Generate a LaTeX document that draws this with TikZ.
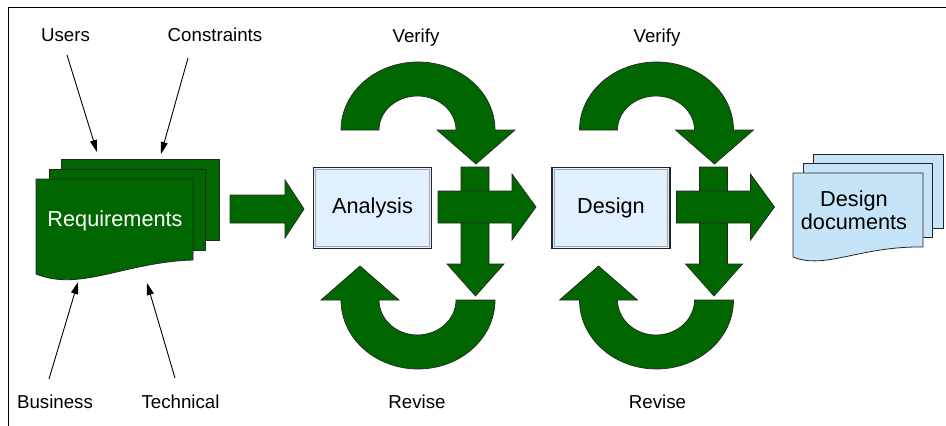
\documentclass[tikz,border=0pt]{standalone}
\usepackage{fontspec}
\setmainfont{Liberation Sans}
\usetikzlibrary{arrows.meta}
\definecolor{grn}{RGB}{0,102,0}
\definecolor{boxblue}{RGB}{224,240,255}
\definecolor{docblue}{RGB}{198,228,248}
\begin{document}
\begin{tikzpicture}[x=1pt,y=-1pt,
  blk/.style={fill=grn,draw=black!85,line width=0.7pt,line join=miter},
  gdoc/.style={fill=grn,draw=black!85,line width=0.8pt},
  bdoc/.style={fill=docblue,draw=black!85,line width=0.8pt},
  lbl/.style={font=\fontsize{18.7}{22}\selectfont,anchor=base,inner sep=0},
  lab/.style={draw=black,line width=0.9pt,-{Triangle[length=12pt,width=7pt]}},
  procbox/.style={fill=boxblue,draw=black!85,line width=1.5pt,minimum width=118pt,
    minimum height=81pt,inner sep=0,outer sep=0,font=\fontsize{21.7}{26}\selectfont},
  bigtxt/.style={font=\fontsize{21.7}{23}\selectfont,inner sep=0}
]
\useasboundingbox (0,0) rectangle (946,426);
% frame
\draw[line width=1pt] (8,426) -- (8,7) -- (946,7);

% requirements stack
\path[gdoc] (61,159) rectangle (219,240);
\path[gdoc] (49,169) rectangle (205,250);
\path[gdoc] (36,179) -- (193,179) -- (193,260) .. controls (125,262) and (80,292) .. (36,274) -- cycle;
\node[bigtxt,anchor=base,text=white] (req) at (115,226.7) {Requirements};

% labels and their arrows
\node[lbl] (users) at (65.5,41) {Users};
\node[lbl] (constraints) at (215,41) {Constraints};
\node[lbl] (business) at (55,408) {Business};
\node[lbl] (technical) at (180.5,408) {Technical};
\coordinate (u1) at (67,55);  \coordinate (u2) at (97,152);
\coordinate (c1) at (188,58); \coordinate (c2) at (161,154);
\coordinate (b1) at (49,379); \coordinate (b2) at (78,282);
\coordinate (t1) at (175,378); \coordinate (t2) at (147,283);
\draw[lab] (u1) -- (u2);
\draw[lab] (c1) -- (c2);
\draw[lab] (b1) -- (b2);
\draw[lab] (t1) -- (t2);

% arrow requirements -> analysis
\path[blk] (230,195) -- (285,195) -- (285,180) -- (304,209) -- (285,238) -- (285,223) -- (230,223) -- cycle;

% two verify/revise loops
\foreach \dx/\nm/\txt in {0/ana/Analysis,238.5/des/Design}{
  \begin{scope}[shift={(\dx,0)}]
    \path[blk] (341,130) arc[start angle=180,end angle=360,x radius=77,y radius=68]
      -- (515,130) -- (476,164) -- (437,130) -- (456,130)
      arc[start angle=360,end angle=180,x radius=38.5,y radius=34] -- cycle;
    \path[blk] (495,300) arc[start angle=0,end angle=180,x radius=77,y radius=69]
      -- (321,300) -- (360,266) -- (399,300) -- (379,300)
      arc[start angle=180,end angle=0,x radius=38.5,y radius=35] -- cycle;
    \path[blk] (461,167) -- (489,167) -- (489,264) -- (504,264) -- (475.5,296)
      -- (447,264) -- (461,264) -- cycle;
    \path[blk] (438,191) -- (512,191) -- (512,174) -- (536,207) -- (512,240)
      -- (512,223) -- (438,223) -- cycle;
    \node[procbox] (\nm) at (372.5,208) {\txt};
    \draw[black!35,line width=1.3pt] ([shift={(2.3,2.3)}]\nm.north west)
      rectangle ([shift={(-2.3,-2.3)}]\nm.south east);
  \end{scope}
}
\node[lbl] (verA) at (416,42) {Verify};
\node[lbl] (revA) at (417,408) {Revise};
\node[lbl] (verD) at (657,42) {Verify};
\node[lbl] (revD) at (657.5,408) {Revise};

% design documents stack
\path[bdoc] (813,154) rectangle (943,228);
\path[bdoc] (803,163) rectangle (932,237);
\path[bdoc] (793,173) -- (923,173) -- (923,247) .. controls (860,246) and (825,270) .. (793,257) -- cycle;
\node[bigtxt,align=center,anchor=base] (ddoc) at (854,229) {Design\\documents};
\end{tikzpicture}
\end{document}
